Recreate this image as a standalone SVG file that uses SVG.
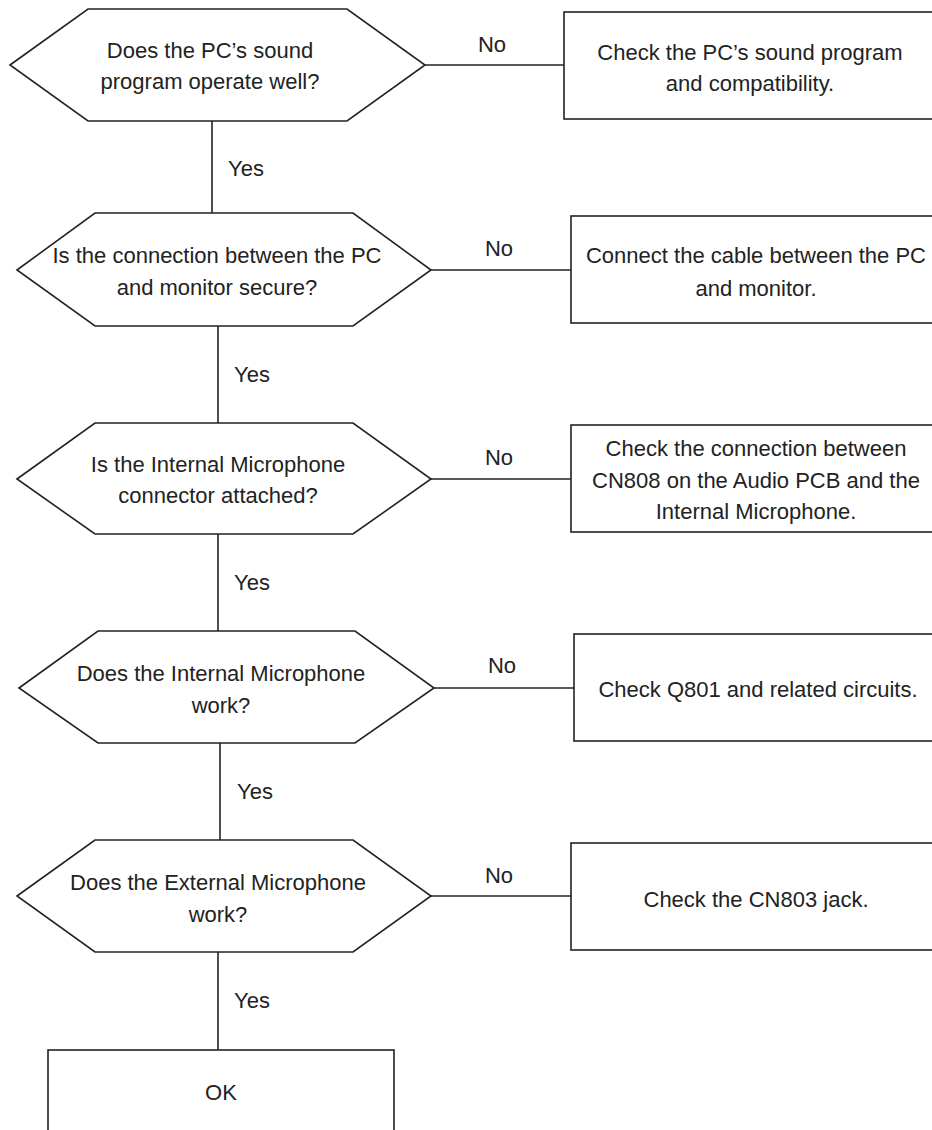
<svg xmlns="http://www.w3.org/2000/svg" width="932" height="1130" viewBox="0 0 932 1130">
<style>
.shape{fill:#fff;stroke:#222;stroke-width:1.6}
.conn line{stroke:#222;stroke-width:1.6}
text{font-family:"Liberation Sans Narrow","Liberation Sans","DejaVu Sans Condensed",sans-serif;font-stretch:condensed;font-size:22px;fill:#222;text-anchor:middle}
.lbl{text-anchor:start}
</style>
<rect width="932" height="1130" fill="#fff"/>
<g id="connectors" class="conn">
<line x1="425" y1="65" x2="564" y2="65"/>
<line x1="212" y1="121" x2="212" y2="213"/>
<line x1="431" y1="270" x2="571" y2="270"/>
<line x1="218" y1="326" x2="218" y2="423"/>
<line x1="431" y1="479" x2="571" y2="479"/>
<line x1="218" y1="534" x2="218" y2="631"/>
<line x1="434" y1="688" x2="574" y2="688"/>
<line x1="220" y1="743" x2="220" y2="840"/>
<line x1="431" y1="896" x2="571" y2="896"/>
<line x1="218" y1="952" x2="218" y2="1050"/>
</g>
<g id="labels">
<text x="492" y="52">No</text>
<text x="228" y="176" class="lbl">Yes</text>
<text x="499" y="256">No</text>
<text x="234" y="382" class="lbl">Yes</text>
<text x="499" y="465">No</text>
<text x="234" y="590" class="lbl">Yes</text>
<text x="502" y="673">No</text>
<text x="237" y="799" class="lbl">Yes</text>
<text x="499" y="883">No</text>
<text x="234" y="1008" class="lbl">Yes</text>
</g>
<g id="q1">
<polygon class="shape" points="10,65 88,9 347,9 425,65 347,121 88,121"/>
<text x="210" y="58">Does the PC’s sound</text>
<text x="210" y="89">program operate well?</text>
</g>
<g id="a1">
<rect class="shape" x="564" y="12" width="380" height="107"/>
<text x="750" y="60">Check the PC’s sound program</text>
<text x="750" y="91">and compatibility.</text>
</g>
<g id="q2">
<polygon class="shape" points="17,270 95,213 353,213 431,270 353,326 95,326"/>
<text x="217" y="263">Is the connection between the PC</text>
<text x="217" y="295">and monitor secure?</text>
</g>
<g id="a2">
<rect class="shape" x="571" y="216" width="380" height="107"/>
<text x="756" y="263">Connect the cable between the PC</text>
<text x="756" y="296">and monitor.</text>
</g>
<g id="q3">
<polygon class="shape" points="17,479 95,423 353,423 431,479 353,534 95,534"/>
<text x="218" y="472">Is the Internal Microphone</text>
<text x="218" y="503">connector attached?</text>
</g>
<g id="a3">
<rect class="shape" x="571" y="425" width="380" height="107"/>
<text x="756" y="456">Check the connection between</text>
<text x="756" y="488">CN808 on the Audio PCB and the</text>
<text x="756" y="519">Internal Microphone.</text>
</g>
<g id="q4">
<polygon class="shape" points="19,688 98,631 355,631 434,688 355,743 98,743"/>
<text x="221" y="681">Does the Internal Microphone</text>
<text x="221" y="713">work?</text>
</g>
<g id="a4">
<rect class="shape" x="574" y="634" width="380" height="107"/>
<text x="758" y="697">Check Q801 and related circuits.</text>
</g>
<g id="q5">
<polygon class="shape" points="17,896 95,840 353,840 431,896 353,952 95,952"/>
<text x="218" y="890">Does the External Microphone</text>
<text x="218" y="922">work?</text>
</g>
<g id="a5">
<rect class="shape" x="571" y="843" width="380" height="107"/>
<text x="756" y="907">Check the CN803 jack.</text>
</g>
<g id="ok">
<rect class="shape" x="48" y="1050" width="346" height="100"/>
<text x="221" y="1100">OK</text>
</g>
</svg>
